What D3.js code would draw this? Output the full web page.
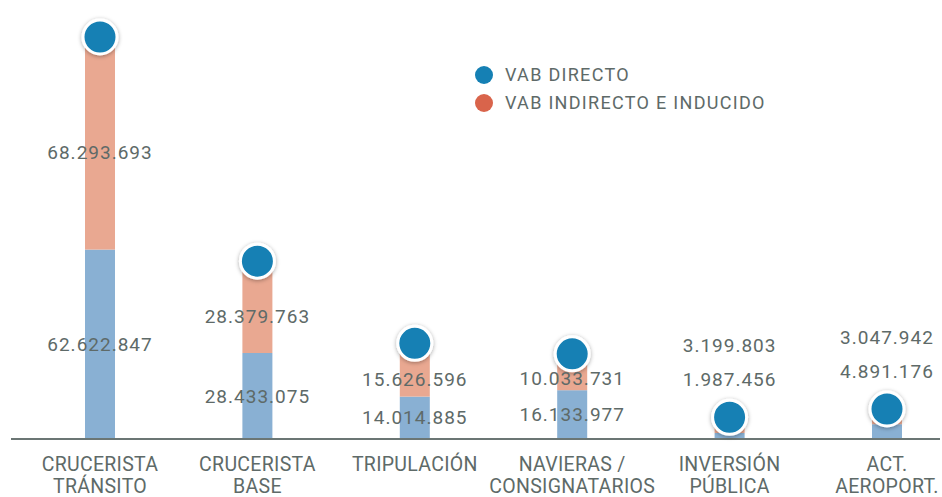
<!DOCTYPE html>
<html>
<head>
<meta charset="utf-8">
<script src="https://cdn.jsdelivr.net/npm/d3@7"></script>
<style>
  html, body { margin: 0; padding: 0; background: #fff; }
  text { font-family: Roboto, "Open Sans", sans-serif; fill: #5e6a68; }
</style>
</head>
<body>
<div id="chart"></div>
<script>
// categories (two lines each)
var categories = ["CRUCERISTA TRÁNSITO", "CRUCERISTA BASE", "TRIPULACIÓN", "NAVIERAS / CONSIGNATARIOS", "INVERSIÓN PÚBLICA", "ACT. AEROPORT."];
var categoryLines = [["CRUCERISTA", "TRÁNSITO"], ["CRUCERISTA", "BASE"], ["TRIPULACIÓN"], ["NAVIERAS /", "CONSIGNATARIOS"], ["INVERSIÓN", "PÚBLICA"], ["ACT.", "AEROPORT."]];
var vabDirecto = [62622847, 28433075, 14014885, 16133977, 1987456, 4891176];
var vabIndirecto = [68293693, 28379763, 15626596, 10033731, 3199803, 3047942];
var seriesNames = ["VAB DIRECTO", "VAB INDIRECTO E INDUCIDO"];

var fmt = function(v) {
    return String(v).replace(/\B(?=(\d{3})+(?!\d))/g, ".");
};

var width = 942, height = 497;
var margin = {top: 43, right: 2, bottom: 58, left: 11};
var baseY = height - margin.bottom; // axis y

var svg = d3.select("#chart")
    .append("svg")
    .attr("width", width)
    .attr("height", height);

var defs = svg.append("defs");
var filter = defs.append("filter").attr("id", "shadow")
    .attr("x", "-50%").attr("y", "-50%").attr("width", "200%").attr("height", "200%");
filter.append("feDropShadow")
    .attr("dx", 0).attr("dy", 1).attr("stdDeviation", 2)
    .attr("flood-color", "#000").attr("flood-opacity", 0.35);

var x = d3.scalePoint()
    .domain(categories)
    .range([100, 887]);

var y = d3.scaleLinear()
    .domain([0, d3.max(categories, function(c, i) { return vabDirecto[i] + vabIndirecto[i]; })])
    .range([baseY, margin.top]);

var data = categories.map(function(c, i) {
    return {name: c, lines: categoryLines[i], direct: vabDirecto[i], indirect: vabIndirecto[i]};
});

var barW = 30;

// bars
var bars = svg.append("g");
bars.selectAll("rect.direct")
    .data(data).enter()
    .append("rect")
    .attr("class", "direct")
    .attr("x", function(d) { return x(d.name) - barW / 2; })
    .attr("y", function(d) { return y(d.direct); })
    .attr("width", barW)
    .attr("height", function(d) { return baseY - y(d.direct); })
    .attr("fill", "#89b0d3");

bars.selectAll("rect.indirect")
    .data(data).enter()
    .append("rect")
    .attr("class", "indirect")
    .attr("x", function(d) { return x(d.name) - barW / 2; })
    .attr("y", function(d) { return y(d.direct + d.indirect); })
    .attr("width", barW)
    .attr("height", function(d) { return y(d.direct) - y(d.direct + d.indirect); })
    .attr("fill", "#e9a891");

// axis line
var xAxis = d3.axisBottom(x).tickSize(0).tickFormat("");
svg.append("g")
    .attr("transform", "translate(0," + baseY + ")")
    .call(xAxis)
    .call(function(g) {
        g.select(".domain").attr("d", "M11,0H940").attr("stroke", "#6b7674").attr("stroke-width", 2);
    });

// circles
svg.append("g")
    .selectAll("circle")
    .data(data).enter()
    .append("circle")
    .attr("cx", function(d) { return x(d.name); })
    .attr("cy", function(d) { return y(d.direct + d.indirect) - 6; })
    .attr("r", 17)
    .attr("fill", "#1580b4")
    .attr("stroke", "#fff")
    .attr("stroke-width", 3)
    .attr("filter", "url(#shadow)");

// value label positions
function labelPos(d) {
    var top = y(d.direct + d.indirect) - 6;
    if (baseY - top < 40) {
        var dl = top - 38;
        return {direct: dl, indirect: dl - 34};
    }
    var dMid = (baseY + y(d.direct)) / 2;
    var iMid = (y(d.direct) + y(d.direct + d.indirect)) / 2;
    var dY = Math.min(dMid, baseY - 22);
    var iY = Math.min(iMid + 6, dY - 36);
    return {direct: dY, indirect: iY};
}

var labels = svg.append("g")
    .attr("font-size", 19)
    .attr("letter-spacing", 1)
    .attr("text-anchor", "middle");

labels.selectAll("text.dl")
    .data(data).enter()
    .append("text")
    .attr("x", function(d) { return x(d.name); })
    .attr("y", function(d) { return labelPos(d).direct; })
    .attr("dy", ".35em")
    .text(function(d) { return fmt(d.direct); });

labels.selectAll("text.il")
    .data(data).enter()
    .append("text")
    .attr("x", function(d) { return x(d.name); })
    .attr("y", function(d) { return labelPos(d).indirect; })
    .attr("dy", ".35em")
    .text(function(d) { return fmt(d.indirect); });

// category labels
var cat = svg.append("g")
    .attr("font-size", 19.5)
    .attr("letter-spacing", 0.3)
    .attr("text-anchor", "middle");

cat.selectAll("text")
    .data(data).enter()
    .append("text")
    .each(function(d) {
        var t = d3.select(this);
        d.lines.forEach(function(l, i) {
            t.append("tspan")
                .attr("x", x(d.name))
                .attr("y", 464 + i * 22)
                .attr("dy", ".35em")
                .text(l);
        });
    });

// legend
var legendColors = ["#1580b4", "#d9644b"];
var legend = svg.append("g")
    .selectAll("g")
    .data(seriesNames).enter()
    .append("g")
    .attr("transform", function(d, i) { return "translate(484," + (75 + i * 28) + ")"; });

legend.append("circle")
    .attr("r", 9)
    .attr("fill", function(d, i) { return legendColors[i]; });

legend.append("text")
    .attr("x", 21)
    .attr("dy", ".35em")
    .attr("font-size", 18)
    .attr("letter-spacing", 1.3)
    .text(function(d) { return d; });
</script>
</body>
</html>
